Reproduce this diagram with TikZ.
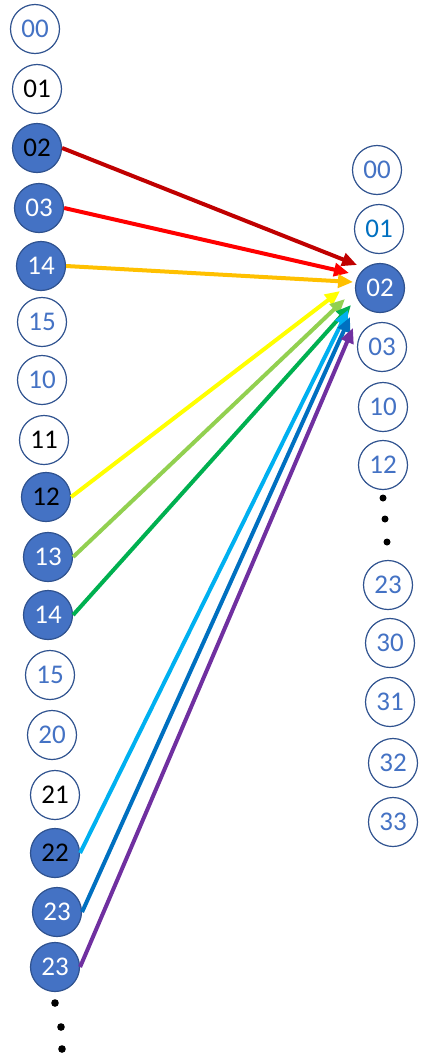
\documentclass[tikz,border=0pt]{standalone}
\usepackage{fontspec}
\setmainfont{Carlito}
\usetikzlibrary{arrows.meta,calc}
\definecolor{nodeblue}{HTML}{4472C4}
\definecolor{rimblue}{HTML}{2F528F}
\definecolor{txtblue}{HTML}{4472C4}
\definecolor{txtdeep}{HTML}{0070C0}
\definecolor{cdarkred}{HTML}{C00000}
\definecolor{cred}{HTML}{FF0000}
\definecolor{corange}{HTML}{FFC000}
\definecolor{cyellow}{HTML}{FFFF00}
\definecolor{clime}{HTML}{92D050}
\definecolor{cgreen}{HTML}{00B050}
\definecolor{csky}{HTML}{00B0F0}
\definecolor{cblue}{HTML}{0070C0}
\definecolor{cpurple}{HTML}{7030A0}
\tikzset{
  slot/.style={circle, draw=rimblue, line width=1.2pt, minimum size=49pt,
               inner sep=0pt, fill=white, text=txtblue,
               font=\fontsize{27}{30}\selectfont},
  hit/.style={slot, fill=nodeblue, text=white},
  hitdark/.style={hit, text=black},
  link/.style={-{Triangle[length=15pt,width=13pt]}, line width=4pt},
}

\begin{document}
\begin{tikzpicture}[x=1pt, y=-1pt]
  \useasboundingbox (0,0) rectangle (421,1055);

  % left column
  \node[slot] (a00) at (35,29) {00};
  \node[slot, text=black] (a01) at (37,89) {01};
  \node[hitdark] (a02) at (37,148) {02};
  \node[hit] (a03) at (39,208) {03};
  \node[hit] (a14) at (41,266) {14};
  \node[slot] (a15) at (42,322) {15};
  \node[slot] (a10) at (42,380) {10};
  \node[slot, text=black] (a11) at (44,440) {11};
  \node[hitdark] (a12) at (46,497) {12};
  \node[hit] (a13) at (48,557) {13};
  \node[hit] (a14b) at (48,615) {14};
  \node[slot] (a15b) at (50,675) {15};
  \node[slot] (a20) at (52,735) {20};
  \node[slot, text=black] (a21) at (55,795) {21};
  \node[hitdark] (a22) at (55,853) {22};
  \node[hit] (a23) at (57,912) {23};
  \node[hit] (a23b) at (55,967) {23};
  \fill (55,1003) circle (3.8);
  \fill (61,1027) circle (3.8);
  \fill (62,1049) circle (3.8);

  % right column
  \node[slot] (b00) at (377,170) {00};
  \node[slot, text=txtdeep] (b01) at (379,229) {01};
  \node[hit] (b02) at (380,288) {02};
  \node[slot] (b03) at (382,347) {03};
  \node[slot] (b10) at (383,407) {10};
  \node[slot] (b12) at (383,465) {12};
  \fill (383,498) circle (3.5);
  \fill (385,519) circle (3.5);
  \fill (387,542) circle (3.5);
  \node[slot] (b23) at (388,585) {23};
  \node[slot] (b30) at (390,643) {30};
  \node[slot] (b31) at (390,702) {31};
  \node[slot] (b32) at (393,763) {32};
  \node[slot] (b33) at (393,822) {33};

  % arrow tips round the target
  \coordinate (t1) at ($(b02)+(-23,-23)$);
  \coordinate (t2) at ($(b02)+(-31,-15)$);
  \coordinate (t3) at ($(b02)+(-27,-6)$);
  \coordinate (t4) at ($(b02)+(-40,3)$);
  \coordinate (t5) at ($(b02)+(-35,11)$);
  \coordinate (t6) at ($(b02)+(-29,17)$);
  \coordinate (t7) at ($(b02)+(-32,22)$);
  \coordinate (t8) at ($(b02)+(-30,29)$);
  \coordinate (t9) at ($(b02)+(-27,40)$);

  \draw[link, cdarkred] (a02.east) -- (t1);
  \draw[link, cred] (a03.east) -- (t2);
  \draw[link, corange] (a14.east) -- (t3);
  \draw[link, cyellow] (a12.east) -- (t4);
  \draw[link, clime] (a13.east) -- (t5);
  \draw[link, cgreen] (a14b.east) -- (t6);
  \draw[link, csky] (a22.east) -- (t7);
  \draw[link, cblue] (a23.east) -- (t8);
  \draw[link, cpurple] (a23b.east) -- (t9);
\end{tikzpicture}
\end{document}
